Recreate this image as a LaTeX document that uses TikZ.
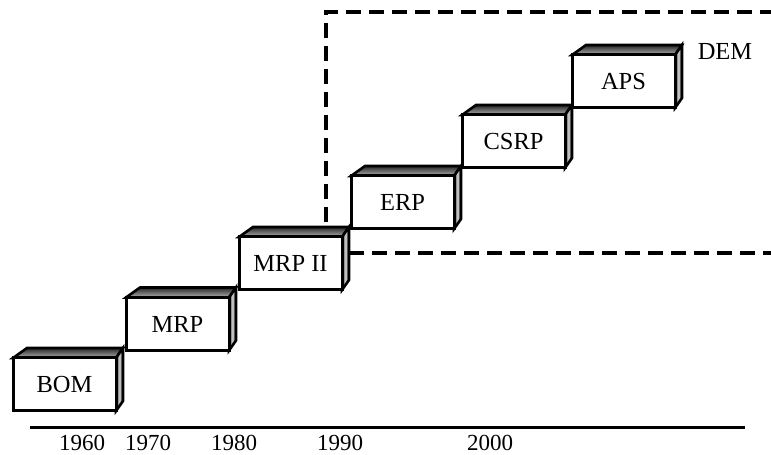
\documentclass[tikz,border=0pt]{standalone}
\usepackage{fontspec}
\setmainfont{Liberation Serif}
\begin{document}
\begin{tikzpicture}[x=1pt,y=1pt,line join=miter]
\useasboundingbox (0,0) rectangle (771,455);
\tikzset{
  frontface/.style={draw=black, line width=3pt, fill=white, minimum width=103pt, minimum height=53pt, inner sep=0pt, font=\fontsize{24.5}{28}\selectfont},
  topface/.style={draw=black, line width=2.6pt, top color=black!85, bottom color=black!30},
  sideface/.style={draw=black, line width=2.6pt, left color=black!80, right color=black!90, middle color=black!15},
  yearlabel/.style={font=\fontsize{23}{27}\selectfont, inner sep=0pt},
  framestyle/.style={dash pattern=on 15pt off 8pt, line width=3.5pt},
  axisstyle/.style={line width=3pt}
}
\newcommand\pbox[4]{%
  \coordinate (#1-tl) at (#2,{455-#3});
  \coordinate (#1-tr) at ({#2+103},{455-#3});
  \coordinate (#1-br) at ({#2+103},{455-#3-53});
  \coordinate (#1-btl) at ({#2+14},{455-#3+10});
  \coordinate (#1-btr) at ({#2+110},{455-#3+10});
  \coordinate (#1-bbr) at ({#2+110},{455-#3-43});
  \path[topface] (#1-tl) -- (#1-btl) -- (#1-btr) -- (#1-tr) -- cycle;
  \path[sideface] (#1-tr) -- (#1-btr) -- (#1-bbr) -- (#1-br) -- cycle;
  \node[frontface] (#1) at ({#2+51.5},{455-#3-26.5}) {#4};
}
% dashed frame
\coordinate (f1) at (775,443);
\coordinate (f2) at (326,443);
\coordinate (f3) at (326,202);
\coordinate (f4) at (775,202);
\draw[framestyle] (f1) -- (f2) -- (f3) -- (f4);
% boxes
\pbox{bom}{13}{358}{BOM}
\pbox{mrp}{126}{297.5}{MRP}
\pbox{mrpii}{239}{237}{MRP II}
\pbox{erp}{351}{176}{ERP}
\pbox{csrp}{462}{115}{CSRP}
\pbox{aps}{572}{55}{APS}
\node[font=\fontsize{24.5}{28}\selectfont, inner sep=0pt] (dem) at (725,403) {DEM};
% axis
\coordinate (a1) at (30,27);
\coordinate (a2) at (745,27);
\draw[axisstyle] (a1) -- (a2);
\node[yearlabel] (y1960) at (82,12) {1960};
\node[yearlabel] (y1970) at (148,12) {1970};
\node[yearlabel] (y1980) at (234,12) {1980};
\node[yearlabel] (y1990) at (340,12) {1990};
\node[yearlabel] (y2000) at (490,12) {2000};
\end{tikzpicture}
\end{document}
